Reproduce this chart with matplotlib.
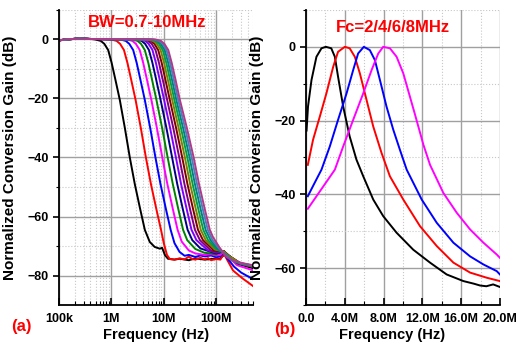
import numpy as np
import matplotlib
matplotlib.use("Agg")
import matplotlib.pyplot as plt
from matplotlib.ticker import MultipleLocator, LogLocator, NullFormatter, FixedLocator

plt.rcParams['font.family'] = ['Liberation Sans', 'DejaVu Sans']
plt.rcParams['font.weight'] = 'bold'

# ---- (a) low-pass responses, BW = 0.7 ... 9.8 MHz (frequencies in MHz) ----
lp_colors = ['#000000', '#FF0000', '#0000FF', '#FF00FF', '#008000', '#000080', '#8000FF',
             '#800080', '#800000', '#808000', '#00A040', '#008080', '#4A7EBB', '#B03A8A']
lp_start_f = [0.1, 0.15, 0.25, 0.4]
lp_start_db = [-0.3, 0.05, 0.3, 0.15]
lp_roll_db = [0, -0.5, -1.5, -3.6, -8, -13.5, -20.5, -30, -40, -49, -57.5, -64.5]
lp_roll_f = [
    [0.49, 0.63, 0.735, 0.87, 1.015, 1.19, 1.45, 1.81, 2.25, 2.8, 3.55, 4.35],
    [0.98, 1.26, 1.47, 1.74, 2.03, 2.38, 2.9, 3.65, 4.56, 5.69, 7.22, 8.86],
    [1.47, 1.89, 2.2, 2.61, 3.05, 3.57, 4.35, 5.51, 6.94, 8.66, 11.01, 13.53],
    [1.96, 2.52, 2.94, 3.48, 4.06, 4.76, 5.8, 7.39, 9.38, 11.71, 14.92, 18.36],
    [2.45, 3.15, 3.68, 4.35, 5.08, 5.95, 7.25, 9.3, 11.87, 14.87, 18.96, 23.36],
    [2.94, 3.78, 4.41, 5.22, 6.09, 7.14, 8.7, 11.24, 14.43, 18.09, 23.11, 28.5],
    [3.43, 4.41, 5.15, 6.09, 7.1, 8.33, 10.15, 13.2, 17.06, 21.4, 27.38, 33.83],
    [3.92, 5.04, 5.88, 6.96, 8.12, 9.52, 11.6, 15.18, 19.75, 24.82, 31.75, 39.29],
    [4.41, 5.67, 6.62, 7.83, 9.14, 10.7, 13.05, 17.19, 22.5, 28.3, 36.26, 44.94],
    [4.9, 6.3, 7.35, 8.7, 10.15, 11.9, 14.5, 19.22, 25.31, 31.86, 40.9, 50.72],
    [5.39, 6.93, 8.09, 9.57, 11.2, 13.1, 15.95, 21.28, 28.17, 35.54, 45.65, 56.7],
    [5.88, 7.56, 8.82, 10.44, 12.2, 14.3, 17.4, 23.37, 31.1, 39.28, 50.52, 62.8],
    [6.37, 8.19, 9.56, 11.3, 13.2, 15.5, 18.85, 25.48, 34.11, 43.13, 55.52, 69.1],
    [6.86, 8.82, 10.3, 12.2, 14.2, 16.7, 20.3, 27.62, 37.17, 47.04, 60.63, 75.52],
]
lp_tail_f = [
    [5.4, 6.7, 8.4, 9.3, 10.5, 12, 16, 20, 30, 40, 60, 80, 120, 145, 170, 250, 500],
    [10, 11.5, 13, 16, 20, 25, 30, 35, 40, 50, 60, 70, 80, 100, 120, 140, 160, 210, 320, 500],
    [16, 20, 25, 30, 40, 50, 60, 80, 100, 120, 140, 160, 220, 300, 500],
    [22, 30, 40, 60, 80, 100, 120, 140, 170, 250, 500],
    [28, 40, 60, 80, 100, 140, 170, 250, 500],
    [35, 50, 80, 100, 140, 170, 250, 500],
    [42, 70, 100, 140, 170, 300, 500],
    [49, 80, 100, 140, 170, 300, 500],
    [56, 90, 140, 170, 300, 500],
    [63, 95, 140, 170, 300, 500],
    [70, 100, 140, 200, 300, 500],
    [78, 105, 145, 200, 300, 500],
    [85, 110, 150, 200, 300, 500],
    [87, 114, 156, 200, 300, 500],
]
lp_tail_db = [
    [-68.6, -70.3, -70.9, -70.6, -73, -74.3, -74.6, -74.3, -74.8, -74.2, -74.6, -74.4, -74.2, -72.8, -74, -76, -77.5],
    [-69, -73, -74.4, -74.6, -74.2, -74.5, -73.6, -74.4, -74.6, -74.0, -74.5, -74.1, -74.8, -74.4, -74.6, -72.6, -74.5, -78.3, -81, -83.5],
    [-69, -72, -73.3, -73, -73.7, -73.2, -73.5, -73.2, -73.8, -73.4, -72.4, -74, -77, -79, -81.2],
    [-68.5, -71.5, -72.5, -73, -72.8, -73.2, -73, -72, -73.5, -76.5, -78.2],
    [-68, -71, -72.3, -72.5, -72.8, -71.8, -73.3, -75.8, -77],
    [-68, -70.8, -72, -72.5, -71.8, -73, -75.5, -76.8],
    [-68, -71.5, -72.2, -71.7, -73.2, -76.1, -77],
    [-68, -71.6, -72, -71.7, -73.2, -76, -77],
    [-68, -71.5, -71.8, -73.2, -76, -77],
    [-68, -71.2, -71.8, -73.2, -76, -76.9],
    [-68, -71, -72.2, -74.8, -76, -76.8],
    [-68, -70.8, -72.6, -74.8, -75.9, -76.7],
    [-68, -70.5, -73, -74.8, -75.8, -76.6],
    [-67, -70.3, -73.7, -74.8, -75.7, -76.5],
]

# ---- (b) band-pass responses, Fc = 2/4/6/8 MHz (frequencies in MHz) ----
bp_colors = ['#000000', '#FF0000', '#0000FF', '#FF00FF']
bp_f = [
    [0.05, 0.2, 0.56, 1.07, 1.59, 2.04, 2.6, 2.97, 3.3, 3.83, 4.5, 5.2, 5.9, 6.93, 7.96, 9.34,
     11.06, 12.79, 14.5, 16.23, 17.3, 17.95, 18.6, 19.3, 20],
    [0.18, 0.72, 1.42, 2.1, 2.8, 3.3, 4.0, 4.5, 5.03, 5.55, 6.24, 6.93, 7.79, 8.65, 10.03, 11.75,
     13.48, 15.2, 16.92, 18.65, 20],
    [0.18, 0.9, 1.59, 2.45, 3.3, 4.18, 4.86, 5.37, 5.96, 6.58, 7.1, 7.62, 8.3, 9.0, 9.68, 10.38,
     11.93, 13.48, 15.2, 16.92, 18.3, 19.67, 20],
    [0.18, 1.55, 2.97, 3.83, 4.86, 5.9, 6.76, 7.45, 7.96, 8.65, 9.34, 10.03, 11.2, 12.1, 12.79,
     14.16, 15.55, 16.92, 18.3, 19.67, 20],
]
bp_db = [
    [-22.7, -16.2, -9, -2.7, -0.4, 0, -0.4, -2.7, -8.1, -16.2, -24.3, -30.6, -35.1, -41.4, -45.9,
     -50.4, -55, -58.5, -61.7, -63.5, -64.2, -64.7, -64.9, -64.4, -65.1],
    [-32, -25.2, -18.9, -12.6, -5.4, -1.35, 0, -0.4, -2.7, -7.2, -14.4, -21.6, -28.8, -35.1, -41.4,
     -48.6, -54, -58.5, -61.2, -62.6, -63.5],
    [-40.5, -36.8, -33.3, -27, -19.8, -12.6, -6.3, -1.8, 0, -0.9, -3.6, -9, -16.2, -22.5, -27.9,
     -33.3, -41.4, -47.7, -53.1, -56.8, -59, -60.8, -61.7],
    [-43.9, -38.7, -33.3, -27, -19.8, -12.6, -6.3, -1.8, 0, -0.4, -2.7, -7.2, -18, -26.5, -32,
     -39.6, -45, -49.5, -53.1, -56.3, -57.2],
]

fig = plt.figure(figsize=(5.17, 3.42), dpi=100)
ax1 = fig.add_axes([0.114, 0.108, 0.375, 0.863])
ax2 = fig.add_axes([0.592, 0.108, 0.375, 0.863])

for i in range(len(lp_roll_f)):
    f = lp_start_f + lp_roll_f[i] + lp_tail_f[i]
    g = lp_start_db + lp_roll_db + lp_tail_db[i]
    ax1.plot(f, g, color=lp_colors[i], lw=1.4)

for i in range(len(bp_f)):
    ax2.plot(bp_f[i], bp_db[i], color=bp_colors[i], lw=1.4)

def style(ax):
    for s in ['top', 'right']:
        ax.spines[s].set_visible(False)
    for s in ['left', 'bottom']:
        ax.spines[s].set_linewidth(1.3)
    ax.grid(which='major', color='#A0A0A0', lw=1.0, ls='-')
    ax.grid(which='minor', color='#C8C8C8', lw=0.8, ls=':')
    ax.set_axisbelow(True)
    ax.tick_params(axis='x', which='both', direction='in', labelsize=9, pad=6)
    ax.tick_params(axis='x', which='major', length=5, width=1.2)
    ax.tick_params(axis='x', which='minor', length=3, width=0.8)
    ax.tick_params(axis='y', which='both', direction='out', labelsize=9)
    ax.tick_params(axis='y', which='major', length=4, width=1.2)
    ax.tick_params(axis='y', which='minor', length=2.5, width=0.8)
    for t in ax.get_xticklabels() + ax.get_yticklabels():
        t.set_fontweight('bold')
    ax.set_xlabel('Frequency (Hz)', fontsize=10.5, fontweight='bold')
    ax.set_ylabel('Normalized Conversion Gain (dB)', fontsize=11, fontweight='bold')

ax1.set_xscale('log')
ax1.set_xlim(0.1, 500)
ax1.set_ylim(-90, 10)
ax1.set_xticks([0.1, 1, 10, 100])
ax1.set_xticklabels(['100k', '1M', '10M', '100M'])
ax1.xaxis.set_minor_locator(LogLocator(subs=np.arange(2, 10)))
ax1.xaxis.set_minor_formatter(NullFormatter())
ax1.set_yticks([0, -20, -40, -60, -80])
ax1.yaxis.set_minor_locator(FixedLocator([10, -10, -30, -50, -70]))
style(ax1)
ax1.xaxis.set_label_coords(0.5, -0.078)
ax1.yaxis.set_label_coords(-0.215, 0.5)
ax1.text(0.454, 0.956, 'BW=0.7-10MHz', transform=ax1.transAxes, color='red',
         fontsize=12, fontweight='bold', ha='center', va='center')

ax2.set_xlim(0, 20)
ax2.set_ylim(-70, 10)
ax2.set_xticks([0, 4, 8, 12, 16, 20])
ax2.set_xticklabels(['0.0', '4.0M', '8.0M', '12.0M', '16.0M', '20.0M'])
ax2.xaxis.set_minor_locator(MultipleLocator(2))
ax2.set_yticks([0, -20, -40, -60])
ax2.yaxis.set_minor_locator(FixedLocator([10, -10, -30, -50, -70]))
style(ax2)
ax2.xaxis.set_label_coords(0.446, -0.078)
ax2.yaxis.set_label_coords(-0.215, 0.5)
ax2.text(0.448, 0.939, 'Fc=2/4/6/8MHz', transform=ax2.transAxes, color='red',
         fontsize=12, fontweight='bold', ha='center', va='center')

fig.text(0.041, 0.044, '(a)', color='red', fontsize=12, fontweight='bold', ha='center', va='center')
fig.text(0.551, 0.038, '(b)', color='red', fontsize=12, fontweight='bold', ha='center', va='center')

fig.savefig('out.png', dpi=100)
